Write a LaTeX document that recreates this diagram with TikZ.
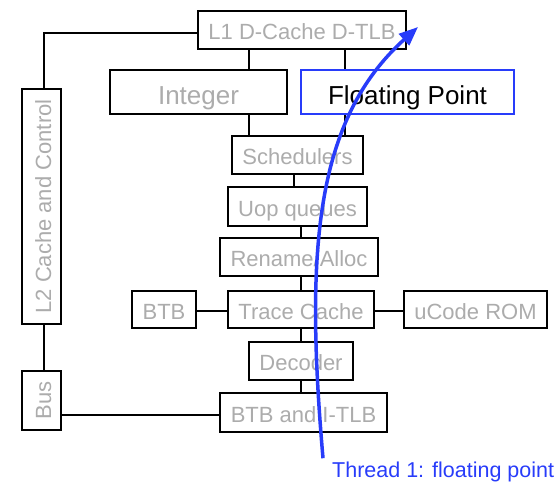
\documentclass[tikz,border=0pt]{standalone}
\usepackage{fontspec}
\setmainfont{Liberation Sans}
\usetikzlibrary{arrows.meta}
\definecolor{txtgray}{RGB}{172,172,172}
\definecolor{tblue}{RGB}{40,60,250}
\tikzset{
  unit/.style={draw=black, line width=2.5pt, fill=white, inner sep=0pt, text=txtgray, font=\fontsize{22}{24}\selectfont, text height=19pt, text depth=0pt},
  bigunit/.style={unit, font=\fontsize{26}{28}\selectfont, text height=24pt},
  wire/.style={draw=black, line width=2pt},
  thread/.style={draw=tblue, line width=3.5pt, -{Triangle[length=19pt,width=15pt]}},
}
\begin{document}
\begin{tikzpicture}[x=1pt,y=-1pt]
\useasboundingbox (0,0) rectangle (560,483);
\coordinate (xa) at (249,0);
\coordinate (xb) at (345,0);
\coordinate (xc) at (294,0);
\coordinate (xd) at (301,0);
\node[unit, minimum width=208pt, minimum height=38pt] (l1) at (302,30) {L1 D-Cache D-TLB};
\node[bigunit, minimum width=177pt, minimum height=44pt] (int) at (198.5,92) {Integer};
\node[bigunit, draw=tblue, line width=2pt, text=black, minimum width=213pt, minimum height=44pt] (fp) at (407.5,92) {Floating Point};
\node[unit, minimum width=131pt, minimum height=38pt] (sch) at (297.5,155) {Schedulers};
\node[unit, minimum width=139pt, minimum height=39pt] (uop) at (297.5,206.5) {Uop queues};
\node[unit, minimum width=158pt, minimum height=38pt] (ren) at (299,257) {Rename/Alloc};
\node[unit, minimum width=146pt, minimum height=37pt] (tc) at (301,309.5) {Trace Cache};
\node[unit, minimum width=64pt, minimum height=37pt] (btb) at (164,309.5) {BTB};
\node[unit, minimum width=143pt, minimum height=37pt] (uc) at (475.5,309.5) {uCode ROM};
\node[unit, minimum width=104pt, minimum height=38pt] (dec) at (301,361) {Decoder};
\node[unit, minimum width=167pt, minimum height=39pt] (bi) at (303.5,412.5) {BTB and I-TLB};
\node[unit, rotate=90, minimum width=235pt, minimum height=39pt] (l2) at (41.5,206.5) {L2 Cache and Control};
\node[unit, rotate=90, minimum width=59pt, minimum height=39pt] (bus) at (41.5,400.5) {Bus};
% connectors
\draw[wire] ([yshift=-3pt]l1.west) -| ([xshift=2pt]l2.east);
\draw[wire] ([xshift=2pt]l2.west) -- ([xshift=2pt]bus.east);
\draw[wire] ([yshift=-2.5pt]bi.west) -- ([yshift=-2.5pt]bi.west -| bus.south);
\draw[wire] (l1.south -| xa) -- (int.north -| xa);
\draw[wire] (int.south -| xa) -- (sch.north -| xa);
\draw[wire] (l1.south -| xb) -- (fp.north -| xb);
\draw[wire] (fp.south -| xb) -- (sch.north -| xb);
\draw[wire] (sch.south -| xc) -- (uop.north -| xc);
\draw[wire] (uop.south -| xd) -- (ren.north -| xd);
\draw[wire] (ren.south -| xd) -- (tc.north -| xd);
\draw[wire] (tc.south -| xd) -- (dec.north -| xd);
\draw[wire] (dec.south -| xd) -- (bi.north -| xd);
\draw[wire] ([yshift=-1.5pt]btb.east) -- ([yshift=-1.5pt]tc.west);
\draw[wire] ([yshift=-1.5pt]tc.east) -- ([yshift=-1.5pt]uc.west);
% thread
\node[anchor=base west, text=tblue, inner sep=0pt, font=\fontsize{21.5}{24}\selectfont] (lbl) at (332,477) {Thread 1: floating point};
\coordinate (tip) at (418,27);
\draw[thread] ([xshift=-9pt,yshift=3pt]lbl.north west) .. controls (305,250) and (315,120) .. (tip);
\end{tikzpicture}
\end{document}
